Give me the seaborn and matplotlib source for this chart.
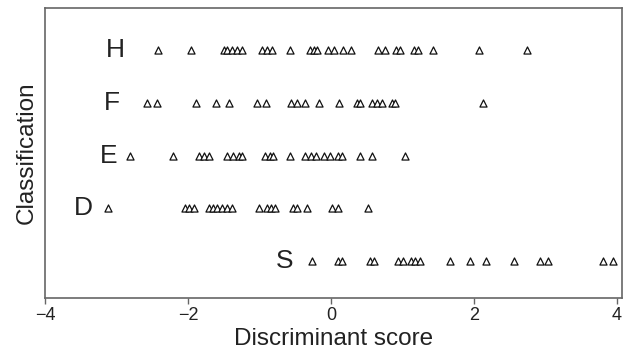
import matplotlib
matplotlib.use("Agg")
import matplotlib.pyplot as plt
import seaborn as sns
import pandas as pd

# Data
categories = ["H", "F", "E", "D", "S"]
row_pos = [5, 4, 3, 2, 1]
H_scores = [-2.42, -1.96, -1.50, -1.45, -1.38, -1.31, -1.25, -0.96, -0.89, -0.82,
            -0.58, -0.30, -0.24, -0.19, -0.04, 0.04, 0.17, 0.28, 0.66, 0.75,
            0.91, 0.97, 1.16, 1.22, 1.43, 2.07, 2.74]
F_scores = [-2.57, -2.44, -1.89, -1.61, -1.42, -1.04, -0.91, -0.56, -0.48, -0.37,
            -0.17, 0.11, 0.36, 0.41, 0.57, 0.64, 0.71, 0.85, 0.90, 2.12]
E_scores = [-2.81, -2.21, -1.84, -1.77, -1.70, -1.46, -1.37, -1.29, -1.25, -0.92,
            -0.86, -0.81, -0.58, -0.36, -0.28, -0.21, -0.10, -0.01, 0.10, 0.16,
            0.40, 0.57, 1.03]
D_scores = [-3.12, -2.04, -1.98, -1.92, -1.71, -1.65, -1.59, -1.52, -1.46, -1.39,
            -1.00, -0.90, -0.84, -0.79, -0.53, -0.48, -0.34, 0.01, 0.10, 0.52]
S_scores = [-0.27, 0.10, 0.15, 0.54, 0.60, 0.94, 1.01, 1.12, 1.18, 1.25,
            1.66, 1.95, 2.17, 2.56, 2.93, 3.04, 3.81, 3.94]
label_x = [-3.02, -3.06, -3.11, -3.46, -0.65]
x_ticks = [-4, -2, 0, 2, 4]
x_tick_labels = ["\u22124", "\u22122", "0", "2", "4"]

series = [H_scores, F_scores, E_scores, D_scores, S_scores]
rows = []
for cat, pos, vals in zip(categories, row_pos, series):
    for v in vals:
        rows.append({"score": v, "row": pos, "cls": cat})
df = pd.DataFrame(rows)

sns.set_style("white")
plt.rcParams["font.family"] = ["Liberation Sans", "DejaVu Sans"]

fig = plt.figure(figsize=(6.24, 3.57), dpi=100)
ax = fig.add_axes([45 / 624, 1 - 297.5 / 357, (622 - 45) / 624, (297.5 - 8) / 357])

sns.scatterplot(data=df, x="score", y="row", marker="^", s=26,
                facecolor="white", edgecolor="#111111", linewidth=0.9,
                ax=ax, legend=False, zorder=3)

for cat, pos, lx in zip(categories, row_pos, label_x):
    ax.text(lx, pos, cat, ha="center", va="center", fontsize=19, color="#222222")

ax.set_xlim(-4, 4.07)
ax.set_ylim(0.31, 5.80)
ax.set_xticks(x_ticks)
ax.set_xticklabels(x_tick_labels, fontsize=13, color="#222222")
ax.set_yticks([])
ax.set_xlabel("Discriminant score", fontsize=17.5, color="#222222", labelpad=3)
ax.set_ylabel("Classification", fontsize=17.5, color="#222222", labelpad=5)
ax.tick_params(axis="x", direction="out", length=4, width=1, color="#666666", pad=3,
               bottom=True)
for sp in ax.spines.values():
    sp.set_visible(True)
    sp.set_color("#666666")
    sp.set_linewidth(1.2)

fig.savefig("out.png", dpi=100)
